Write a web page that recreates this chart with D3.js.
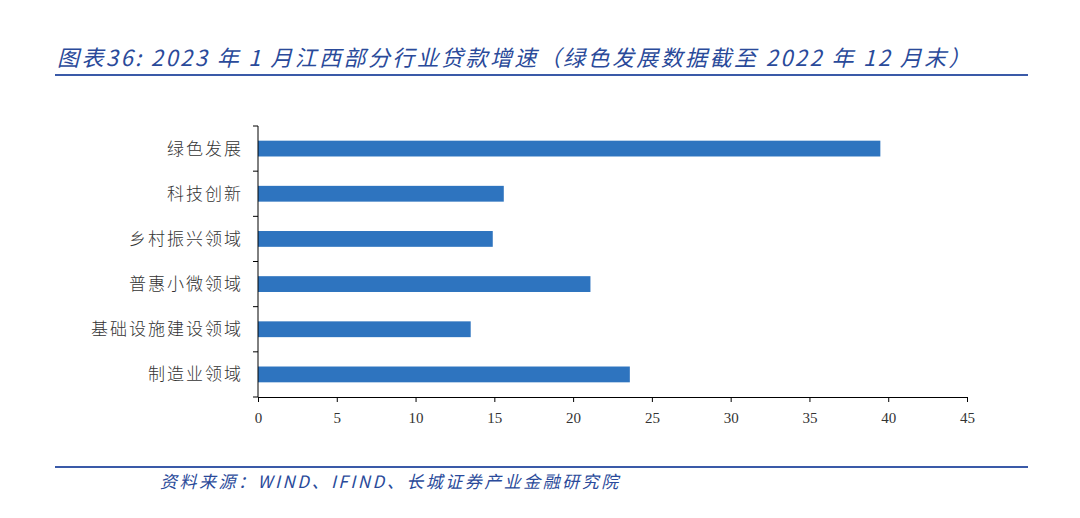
<!DOCTYPE html>
<html>
<head>
<meta charset="utf-8">
<script src="https://cdn.jsdelivr.net/npm/d3@7.9.0/dist/d3.min.js"></script>
<style>
  body { margin: 0; background: #fff; }
  svg { display: block; }
</style>
</head>
<body>
<svg></svg>
<script>
const categories = ["绿色发展", "科技创新", "乡村振兴领域", "普惠小微领域", "基础设施建设领域", "制造业领域"];
const values = [39.5, 15.6, 14.9, 21.1, 13.5, 23.6];
const xTicks = [0, 5, 10, 15, 20, 25, 30, 35, 40, 45];

const width = 1080, height = 518;
const margin = { top: 126, right: 113, bottom: 121, left: 258 };
const blue = "#2a4a9a";

const svg = d3.select("svg").attr("width", width).attr("height", height);

// title
svg.append("text")
  .attr("x", 57).attr("y", 66)
  .attr("fill", blue)
  .attr("font-family", "'Noto Sans CJK SC', sans-serif")
  .attr("font-size", 22)
  .attr("font-style", "italic")
  .attr("letter-spacing", 2.4)
  .text("图表36:  2023 年 1 月江西部分行业贷款增速（绿色发展数据截至 2022 年 12 月末）");

svg.append("line")
  .attr("x1", 55).attr("x2", 1028).attr("y1", 75).attr("y2", 75)
  .attr("stroke", "#3a5aa8").attr("stroke-width", 2);

const x = d3.scaleLinear()
  .domain([0, 45])
  .range([margin.left, width - margin.right]);

const y = d3.scaleBand()
  .domain(categories)
  .range([margin.top, height - margin.bottom])
  .paddingInner(0.65)
  .paddingOuter(0.325);

// bars
svg.append("g")
  .selectAll("rect")
  .data(categories)
  .join("rect")
  .attr("x", x(0))
  .attr("y", d => y(d))
  .attr("width", (d, i) => x(values[i]) - x(0))
  .attr("height", y.bandwidth())
  .attr("fill", "#2e74bf");

// x axis
const xAxis = svg.append("g")
  .attr("transform", `translate(0,${height - margin.bottom})`)
  .call(d3.axisBottom(x).tickValues(xTicks).tickSize(5).tickSizeOuter(0));
xAxis.selectAll("text")
  .attr("dy", "1.2em")
  .attr("font-family", "'Liberation Serif', 'DejaVu Serif', serif")
  .attr("font-size", 15)
  .attr("fill", "#333");

// y axis with ticks between categories
const yAxisG = svg.append("g").attr("transform", `translate(${margin.left},0)`);
yAxisG.append("line")
  .attr("x1", 0).attr("x2", 0)
  .attr("y1", margin.top).attr("y2", height - margin.bottom)
  .attr("stroke", "#000");
const boundaries = d3.range(categories.length + 1).map(i => margin.top + i * (height - margin.top - margin.bottom) / categories.length);
yAxisG.selectAll("line.tick")
  .data(boundaries)
  .join("line")
  .attr("class", "tick")
  .attr("x1", -5).attr("x2", 0)
  .attr("y1", d => d).attr("y2", d => d)
  .attr("stroke", "#000");
yAxisG.selectAll("text")
  .data(categories)
  .join("text")
  .attr("x", -15)
  .attr("y", d => y(d) + y.bandwidth() / 2)
  .attr("dy", "0.35em")
  .attr("text-anchor", "end")
  .attr("font-family", "'Noto Sans CJK SC', sans-serif")
  .attr("font-weight", 300)
  .attr("font-size", 17)
  .attr("letter-spacing", 2)
  .attr("fill", "#333")
  .text(d => d);

// footer
svg.append("line")
  .attr("x1", 55).attr("x2", 1028).attr("y1", 467).attr("y2", 467)
  .attr("stroke", "#3a5aa8").attr("stroke-width", 2);

svg.append("text")
  .attr("x", 160).attr("y", 488)
  .attr("fill", blue)
  .attr("font-family", "'Noto Sans CJK SC', sans-serif")
  .attr("font-size", 17)
  .attr("font-style", "italic")
  .attr("letter-spacing", 2.5)
  .text("资料来源：WIND、IFIND、长城证券产业金融研究院");
</script>
</body>
</html>
